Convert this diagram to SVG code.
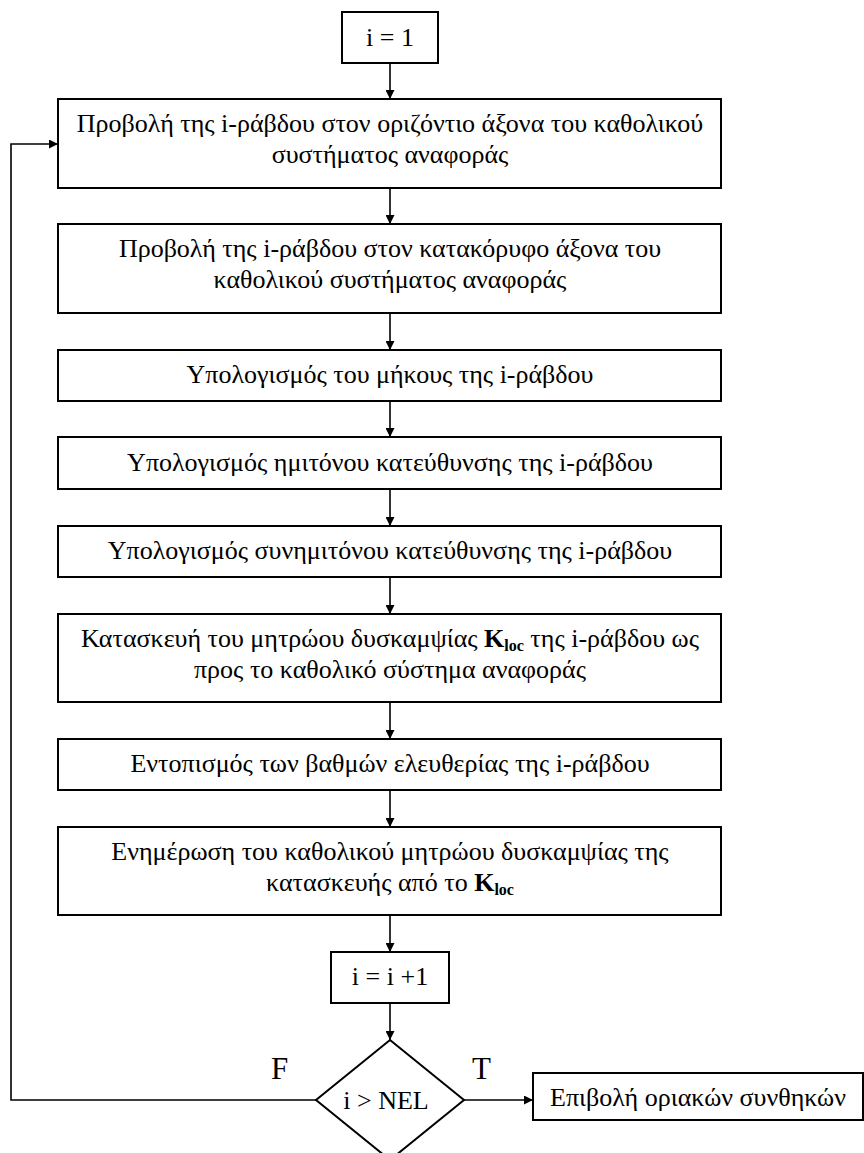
<svg xmlns="http://www.w3.org/2000/svg" width="864" height="1153" viewBox="0 0 864 1153">
<defs>
<style>
.box{fill:#fff;stroke:#000;stroke-width:2}
.t{font-family:"Liberation Serif","DejaVu Serif",serif;font-size:26px;fill:#000;text-anchor:middle}
.tl{font-family:"Liberation Serif","DejaVu Serif",serif;font-size:31px;fill:#000}
.b{font-weight:bold}
.sub{font-weight:bold;font-size:16px}
.c{fill:none;stroke:#000;stroke-width:1.6}
</style>
<marker id="ah" viewBox="0 0 10 10" refX="10" refY="5" markerWidth="9" markerHeight="9" markerUnits="userSpaceOnUse" orient="auto">
<path d="M0,0 L10,5 L0,10 z" fill="#000"/>
</marker>
</defs>
<rect width="864" height="1153" fill="#fff"/>
<g id="connectors">
<line class="c" x1="390" y1="63" x2="390" y2="99" marker-end="url(#ah)"/>
<line class="c" x1="390" y1="188" x2="390" y2="224" marker-end="url(#ah)"/>
<line class="c" x1="390" y1="313" x2="390" y2="350" marker-end="url(#ah)"/>
<line class="c" x1="390" y1="401" x2="390" y2="437" marker-end="url(#ah)"/>
<line class="c" x1="390" y1="489" x2="390" y2="526" marker-end="url(#ah)"/>
<line class="c" x1="390" y1="577" x2="390" y2="614" marker-end="url(#ah)"/>
<line class="c" x1="390" y1="702" x2="390" y2="739" marker-end="url(#ah)"/>
<line class="c" x1="390" y1="790" x2="390" y2="827" marker-end="url(#ah)"/>
<line class="c" x1="390" y1="915" x2="390" y2="952" marker-end="url(#ah)"/>
<line class="c" x1="390" y1="1003" x2="390" y2="1040" marker-end="url(#ah)"/>
<polyline class="c" points="316,1100 11,1100 11,144 58,144" marker-end="url(#ah)"/>
<line class="c" x1="463" y1="1100" x2="533" y2="1100" marker-end="url(#ah)"/>
<text class="tl" x="271" y="1079">F</text>
<text class="tl" x="472" y="1079">T</text>
</g>
<g id="n1">
<rect class="box" x="342" y="12" width="96" height="51"/>
<text class="t" x="390" y="46">i = 1</text>
</g>
<g id="n2">
<rect class="box" x="58" y="99" width="663" height="89"/>
<text class="t" x="390" y="132">Προβολή της i-ράβδου στον οριζόντιο άξονα του καθολικού</text>
<text class="t" x="390" y="163">συστήματος αναφοράς</text>
</g>
<g id="n3">
<rect class="box" x="58" y="224" width="663" height="89"/>
<text class="t" x="390" y="257">Προβολή της i-ράβδου στον κατακόρυφο άξονα του</text>
<text class="t" x="390" y="288">καθολικού συστήματος αναφοράς</text>
</g>
<g id="n4">
<rect class="box" x="58" y="350" width="663" height="51"/>
<text class="t" x="390" y="383">Υπολογισμός του μήκους της i-ράβδου</text>
</g>
<g id="n5">
<rect class="box" x="58" y="437" width="663" height="52"/>
<text class="t" x="390" y="471">Υπολογισμός ημιτόνου κατεύθυνσης της i-ράβδου</text>
</g>
<g id="n6">
<rect class="box" x="58" y="526" width="663" height="51"/>
<text class="t" x="390" y="559">Υπολογισμός συνημιτόνου κατεύθυνσης της i-ράβδου</text>
</g>
<g id="n7">
<rect class="box" x="58" y="614" width="663" height="88"/>
<text class="t" x="390" y="647">Κατασκευή του μητρώου δυσκαμψίας <tspan class="b">K</tspan><tspan class="sub" dy="4">loc</tspan><tspan dy="-4"> της i-ράβδου ως</tspan></text>
<text class="t" x="390" y="678">προς το καθολικό σύστημα αναφοράς</text>
</g>
<g id="n8">
<rect class="box" x="58" y="739" width="663" height="51"/>
<text class="t" x="390" y="772">Εντοπισμός των βαθμών ελευθερίας της i-ράβδου</text>
</g>
<g id="n9">
<rect class="box" x="58" y="827" width="663" height="88"/>
<text class="t" x="390" y="860">Ενημέρωση του καθολικού μητρώου δυσκαμψίας της</text>
<text class="t" x="390" y="891">κατασκευής από το <tspan class="b">K</tspan><tspan class="sub" dy="4">loc</tspan></text>
</g>
<g id="n10">
<rect class="box" x="331" y="952" width="118" height="51"/>
<text class="t" x="390" y="985">i = i +1</text>
</g>
<g id="n11">
<polygon class="box" points="390,1040 464,1100 390,1160 316,1100"/>
<text class="t" x="386" y="1109">i &gt; NEL</text>
</g>
<g id="n12">
<rect class="box" x="533" y="1073" width="330" height="47"/>
<text class="t" x="698" y="1106">Επιβολή οριακών συνθηκών</text>
</g>
</svg>
